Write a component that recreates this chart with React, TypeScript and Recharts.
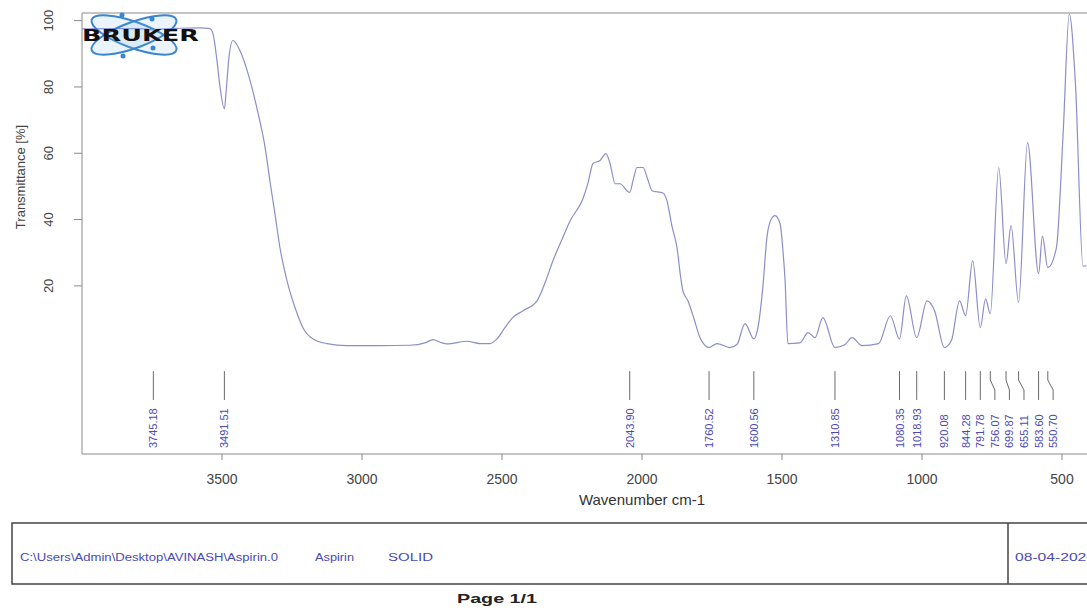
import { ComposedChart, Line, Scatter, XAxis, YAxis, ReferenceArea, ReferenceLine, Label } from 'recharts';

// FT-IR spectrum of aspirin (solid), wavenumber in cm-1, transmittance in %
const wavenumbers = [
  4000, 3900, 3800, 3760, 3745, 3730, 3650, 3579, 3543, 3532, 3518, 3507, 3491.51, 3484, 3475, 3461,
  3436, 3400, 3371, 3346, 3329, 3311, 3293, 3268, 3239, 3211, 3175, 3125, 3054, 2936, 2829, 2775,
  2746, 2721, 2696, 2625, 2579, 2543, 2518, 2489, 2461, 2425, 2375, 2346, 2318, 2286, 2257, 2211,
  2193, 2175, 2150, 2129, 2114, 2096, 2079, 2043.9, 2030, 2018, 1996, 1979, 1964, 1925, 1911, 1893,
  1875, 1861, 1854, 1836, 1814, 1793, 1760.52, 1732, 1686, 1661, 1632, 1600.56, 1586, 1568, 1554, 1539,
  1525, 1507, 1496, 1489, 1479, 1436, 1407, 1382, 1354, 1310.85, 1275, 1250, 1214, 1155, 1113, 1080.35,
  1056, 1018.93, 982, 955, 920.08, 895, 866, 844.28, 819, 791.78, 773, 756.07, 726, 699.87, 682, 655.11,
  623, 583.6, 570, 550.7, 520, 496, 474, 452, 425, 400,
];
const transmittance = [
  97.5, 97.6, 97.6, 97.4, 97.2, 97.4, 97.7, 97.8, 97.6, 96, 88, 80, 73.4, 80, 89, 94,
  91, 82, 72, 61.7, 51.7, 41.8, 31.5, 21.6, 13.4, 7.4, 4, 2.6, 2, 2, 2.1, 2.8,
  3.8, 3, 2.5, 3.3, 2.6, 2.6, 4, 7.5, 10.5, 12.5, 15.5, 21, 27.6, 34, 39.6, 46.3,
  51, 56.9, 57.8, 59.9, 56.9, 50.8, 50.8, 48.2, 52.5, 55.7, 55.7, 52, 48.7, 48, 45.7, 38,
  31.5, 22, 18.5, 15.5, 10, 4.4, 1.4, 2.6, 1.4, 2.3, 8.6, 4, 7.4, 20, 34.5, 40,
  41.2, 38.8, 30, 21.6, 2.6, 2.8, 5.9, 4.4, 10.4, 1.4, 2.3, 4.4, 2, 2.6, 11, 4,
  17, 4.4, 15.5, 12.5, 1.4, 3.5, 15.5, 11, 27.6, 7.4, 16.1, 11.6, 55.7, 26.7, 38.2, 15,
  63.2, 23.7, 35, 25.5, 31.5, 65.9, 102, 81, 26, 26,
];
const peakPositions = [
  3745.18, 3491.51, 2043.9, 1760.52, 1600.56, 1310.85, 1080.35, 1018.93,
  920.08, 844.28, 791.78, 756.07, 699.87, 655.11, 583.6, 550.7,
];
const xTicks = [3500, 3000, 2500, 2000, 1500, 1000, 500];
const yTicks = [20, 40, 60, 80, 100];

const spectrum = wavenumbers.map((wn, i) => ({ wn, t: transmittance[i] }));

// peak annotations live under the zero line, in the lower part of the frame
const LINE_TOP = -5.7;
const BEND_TOP = -8.4;
const BEND_BOTTOM = -11.4;
const LINE_BOTTOM = -14.4;
const TEXT_BASE = -28.9;
const MIN_GAP = 52; // cm-1 between label columns

type PeakLabel = { wn: number; t: number; peak: number; text: string };
const peakLabels: PeakLabel[] = [];
peakPositions.forEach((peak, i) => {
  const prev = peakLabels[i - 1];
  const wn = prev ? Math.min(peak, prev.wn - MIN_GAP) : peak;
  peakLabels.push({ wn, t: TEXT_BASE, peak, text: peak.toFixed(2) });
});

const FONT = '"Liberation Sans", Arial, sans-serif';
const FRAME = '#8a8a8a';

const YTick = ({ x, y, payload }: any) => (
  <text transform={`translate(${x - 19},${y}) rotate(-90)`} textAnchor="middle" fontSize={13} fill="#444">
    {payload.value}
  </text>
);

const XTick = ({ x, y, payload }: any) => (
  <text x={x} y={y + 22} textAnchor="middle" fontSize={14} fill="#444">
    {payload.value}
  </text>
);

const PeakText = (props: any) => {
  const { cx, cy, payload } = props;
  return (
    <text transform={`translate(${cx + 4},${cy}) rotate(-90)`} fontSize={11} fill="#4a4ab4">
      {payload.text}
    </text>
  );
};

const App = () => {
  return (
    <div
      style={{
        position: 'fixed',
        left: 0,
        top: 0,
        width: 1087,
        height: 611,
        overflow: 'hidden',
        background: '#fff',
        fontFamily: FONT,
      }}
    >
      <ComposedChart width={1100} height={520} margin={{ top: 13, right: 10, bottom: 0, left: 0 }}>
        <XAxis
          dataKey="wn"
          type="number"
          domain={[400, 4000]}
          reversed
          ticks={xTicks}
          tick={<XTick />}
          tickSize={6}
          axisLine={false}
          tickLine={{ stroke: FRAME }}
          height={66}
          allowDataOverflow
        >
          <Label
            content={() => (
              <text x={642} y={505} textAnchor="middle" fontSize={15} fill="#333">
                Wavenumber cm-1
              </text>
            )}
          />
        </XAxis>
        <YAxis
          dataKey="t"
          type="number"
          domain={[-30.7, 102.3]}
          ticks={yTicks}
          tick={<YTick />}
          tickSize={8}
          axisLine={false}
          tickLine={{ stroke: FRAME }}
          width={82}
          allowDataOverflow
        >
          <Label
            content={() => (
              <text transform="translate(25,177) rotate(-90)" textAnchor="middle" fontSize={13} fill="#444">
                Transmittance [%]
              </text>
            )}
          />
        </YAxis>
        <ReferenceArea x1={400} x2={4000} y1={-30.7} y2={102.3} fill="none" stroke={FRAME} strokeWidth={1} ifOverflow="visible" />
        {peakLabels.map((p) =>
          Math.abs(p.wn - p.peak) < 1 ? (
            <ReferenceLine
              key={p.text}
              segment={[{ x: p.peak, y: LINE_TOP }, { x: p.peak, y: LINE_BOTTOM }]}
              stroke="#6a6a6a"
            />
          ) : (
            [
              <ReferenceLine key={`${p.text}-a`} segment={[{ x: p.peak, y: LINE_TOP }, { x: p.peak, y: BEND_TOP }]} stroke="#6a6a6a" />,
              <ReferenceLine key={`${p.text}-b`} segment={[{ x: p.peak, y: BEND_TOP }, { x: p.wn, y: BEND_BOTTOM }]} stroke="#6a6a6a" />,
              <ReferenceLine key={`${p.text}-c`} segment={[{ x: p.wn, y: BEND_BOTTOM }, { x: p.wn, y: LINE_BOTTOM }]} stroke="#6a6a6a" />,
            ]
          )
        )}
        <Line
          data={spectrum}
          dataKey="t"
          type="monotone"
          stroke="#8c8ec8"
          strokeWidth={1.2}
          dot={false}
          activeDot={false}
          isAnimationActive={false}
        />
        <Scatter data={peakLabels} dataKey="t" shape={<PeakText />} isAnimationActive={false} />
      </ComposedChart>

      <svg width={1087} height={611} style={{ position: 'absolute', left: 0, top: 0, pointerEvents: 'none' }}>
        {/* logo */}
        <ellipse cx={134} cy={35} rx={45} ry={13} transform="rotate(20 134 35)" fill="rgba(120,180,230,0.15)" stroke="#3b86cf" strokeWidth={2} />
        <ellipse cx={134} cy={35} rx={45} ry={13} transform="rotate(-20 134 35)" fill="rgba(120,180,230,0.15)" stroke="#3b86cf" strokeWidth={2} />
        <circle cx={122} cy={15} r={2.5} fill="#3b86cf" />
        <circle cx={123} cy={56} r={2.5} fill="#3b86cf" />
        <circle cx={153} cy={48} r={2.5} fill="#3b86cf" />
        <circle cx={152} cy={19} r={2.5} fill="#3b86cf" />
        <text x={82} y={41} fontSize={15} fontWeight={900} fill="#111" fontFamily='"DejaVu Sans", sans-serif' textLength={117} lengthAdjust="spacingAndGlyphs">
          BRUKER
        </text>

        {/* sample info box */}
        <rect x={12} y={523} width={1100} height={61} fill="none" stroke="#444" strokeWidth={1.5} />
        <line x1={1008} y1={523} x2={1008} y2={584} stroke="#444" strokeWidth={1.5} />
        <text x={20} y={561} fontSize={10} fill="#4a4ab4" textLength={258} lengthAdjust="spacingAndGlyphs">
          C:\Users\Admin\Desktop\AVINASH\Aspirin.0
        </text>
        <text x={315} y={561} fontSize={10} fill="#4a4ab4" textLength={39} lengthAdjust="spacingAndGlyphs">
          Aspirin
        </text>
        <text x={388} y={561} fontSize={10} fill="#4a4ab4" textLength={45} lengthAdjust="spacingAndGlyphs">
          SOLID
        </text>
        <text x={1015} y={561} fontSize={10} fill="#4a4ab4" textLength={80} lengthAdjust="spacingAndGlyphs">
          08-04-2020
        </text>
        <text x={457} y={603} fontSize={13} fontWeight={700} fill="#222" textLength={80} lengthAdjust="spacingAndGlyphs">
          Page 1/1
        </text>
      </svg>
    </div>
  );
};

export default App;
